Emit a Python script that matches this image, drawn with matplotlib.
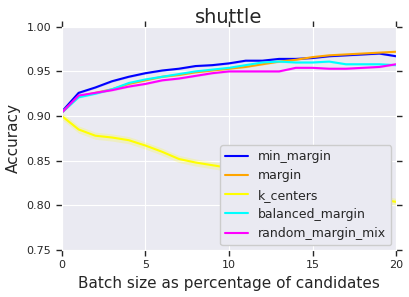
import numpy as np
import matplotlib
matplotlib.use("Agg")
import matplotlib.pyplot as plt
import seaborn as sns

sns.set_style("darkgrid")

batch_pct = list(range(21))

min_margin = [0.905, 0.926, 0.932, 0.939, 0.944, 0.948, 0.951, 0.953, 0.956, 0.957, 0.959,
              0.962, 0.962, 0.964, 0.964, 0.965, 0.967, 0.968, 0.969, 0.970, 0.967]
margin = [0.904, 0.922, 0.926, 0.930, 0.936, 0.940, 0.944, 0.946, 0.949, 0.951, 0.953,
          0.955, 0.958, 0.961, 0.963, 0.966, 0.968, 0.969, 0.970, 0.971, 0.972]
k_centers = [0.900, 0.885, 0.878, 0.876, 0.873, 0.867, 0.860, 0.852, 0.848, 0.845, 0.842,
             0.838, 0.834, 0.830, 0.827, 0.823, 0.819, 0.815, 0.811, 0.807, 0.804]
balanced_margin = [0.904, 0.921, 0.925, 0.930, 0.937, 0.941, 0.944, 0.947, 0.950, 0.952, 0.954,
                   0.957, 0.960, 0.961, 0.960, 0.960, 0.961, 0.958, 0.958, 0.958, 0.957]
random_margin_mix = [0.904, 0.923, 0.926, 0.929, 0.933, 0.936, 0.940, 0.942, 0.945, 0.948, 0.950,
                     0.950, 0.950, 0.950, 0.954, 0.954, 0.953, 0.953, 0.954, 0.955, 0.958]

series = [
    ("min_margin", min_margin, "blue", 0.001),
    ("margin", margin, "orange", 0.001),
    ("k_centers", k_centers, "yellow", 0.004),
    ("balanced_margin", balanced_margin, "cyan", 0.001),
    ("random_margin_mix", random_margin_mix, "magenta", 0.001),
]

fig, ax = plt.subplots(figsize=(4.1, 2.97), dpi=100)

for name, vals, color, err in series:
    v = np.array(vals)
    ax.fill_between(batch_pct, v - err, v + err, color=color, alpha=0.2, lw=0)
    ax.plot(batch_pct, v, color=color, lw=1.5, label=name)

ax.set_xlim(0, 20)
ax.set_ylim(0.75, 1.0)
ax.set_xticks([0, 5, 10, 15, 20])
ax.set_yticks([0.75, 0.80, 0.85, 0.90, 0.95, 1.00])
ax.tick_params(axis="both", which="both", direction="out", length=4, width=1,
               colors="#262626", labelsize=8, top=True, right=True, bottom=True, left=True)
ax.set_title("shuttle", fontsize=14, pad=3, color="#262626")
ax.set_xlabel("Batch size as percentage of candidates", fontsize=11, color="#262626")
ax.set_ylabel("Accuracy", fontsize=11, color="#262626")
ax.legend(loc="lower right", fontsize=9, frameon=True, framealpha=1.0,
          handlelength=1.8, borderaxespad=0.4)

fig.subplots_adjust(left=0.151, right=0.966, top=0.91, bottom=0.158)
fig.savefig("out.png", dpi=100)
